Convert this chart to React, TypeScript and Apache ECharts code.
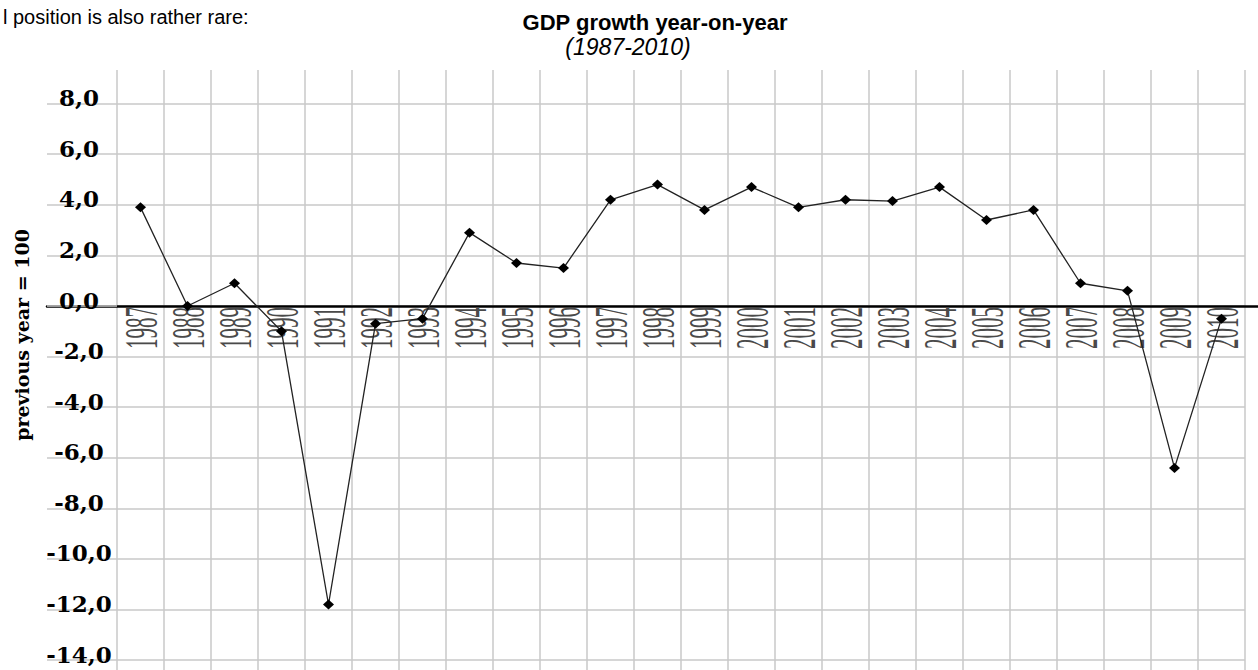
import React, { useEffect, useRef } from "react";
import * as echarts from "echarts";

const years = ["1987","1988","1989","1990","1991","1992","1993","1994","1995","1996","1997","1998","1999","2000","2001","2002","2003","2004","2005","2006","2007","2008","2009","2010"];
const growth = [3.9, 0.0, 0.9, -1.0, -11.8, -0.7, -0.5, 2.9, 1.7, 1.5, 4.2, 4.8, 3.8, 4.7, 3.9, 4.2, 4.15, 4.7, 3.4, 3.8, 0.9, 0.6, -6.4, -0.5];
const yMin = -14.39;
const yMax = 9.33;
const titleText = "GDP growth year-on-year";
const subtitleText = "(1987-2010)";
const yName = "previous year = 100";
const topText = "l position is also rather rare:";

export default function App() {
  const ref = useRef<HTMLDivElement>(null);
  useEffect(() => {
    if (!ref.current) return;
    const chart = echarts.init(ref.current, null, { renderer: "svg" });
    const gridColor = "#c8c8c8";
    chart.setOption({
      animation: false,
      backgroundColor: "#ffffff",
      title: [
        {
          text: topText,
          left: -2,
          top: 2,
          textStyle: { fontFamily: "Liberation Sans", fontSize: 20, fontWeight: "normal", color: "#000" },
        },
        {
          text: titleText,
          left: 650,
          top: 6,
          textAlign: "center",
          textStyle: { fontFamily: "Liberation Sans", fontSize: 22, fontWeight: "bold", color: "#000" },
        },
        {
          text: subtitleText,
          left: 623,
          top: 30,
          textAlign: "center",
          textStyle: { fontFamily: "Liberation Sans", fontSize: 23, fontWeight: "normal", fontStyle: "italic", color: "#000" },
        },
      ],
      grid: [
        { left: 117, right: 13, top: 70, bottom: 0, containLabel: false },
        { left: 47, right: 0, top: 70, bottom: 0, containLabel: false },
      ],
      xAxis: [
        {
          type: "category",
          gridIndex: 0,
          data: years,
          boundaryGap: true,
          axisLine: { show: false },
          axisTick: { show: false },
          axisLabel: { show: false },
          splitLine: { show: true, lineStyle: { color: gridColor, width: 1.5 } },
        },
        {
          type: "value",
          gridIndex: 1,
          min: 0,
          max: 1,
          axisLine: { show: true, onZero: true, lineStyle: { color: "#000", width: 2.5 } },
          axisTick: { show: false },
          axisLabel: { show: false },
          splitLine: { show: false },
        },
      ],
      yAxis: [
        {
          type: "value",
          gridIndex: 0,
          min: yMin,
          max: yMax,
          splitNumber: 12,
          axisLine: { show: false },
          axisTick: { show: true, length: 70, lineStyle: { color: gridColor, width: 1.5 } },
          axisLabel: {
            show: true,
            margin: 38,
            align: "center",
            verticalAlign: "bottom",
            lineHeight: 12,
            fontFamily: "DejaVu Serif",
            fontWeight: "bold",
            fontSize: 23,
            color: "#000",
            showMinLabel: false,
            showMaxLabel: false,
            formatter: (v: number) => {
              const r = Math.round(v);
              if (Math.abs(v - r) > 1e-6 || r % 2 !== 0) return "";
              return r.toFixed(1).replace(".", ",");
            },
          },
          splitLine: {
            show: true,
            showMinLine: false,
            showMaxLine: false,
            lineStyle: { color: gridColor, width: 1.5 },
          },
          name: yName,
          nameLocation: "middle",
          nameGap: 86,
          nameRotate: 90,
          nameTextStyle: {
            fontFamily: "DejaVu Serif",
            fontWeight: "bold",
            fontSize: 19,
            color: "#000",
            padding: [0, 0, 0, 70],
          },
        },
        {
          type: "value",
          gridIndex: 1,
          min: yMin,
          max: yMax,
          show: false,
        },
      ],
      series: [
        {
          type: "line",
          xAxisIndex: 0,
          yAxisIndex: 0,
          data: growth,
          symbol: "diamond",
          symbolSize: [11, 10],
          lineStyle: { color: "#222", width: 1.3 },
          itemStyle: { color: "#000" },
          z: 5,
        },
        {
          type: "custom",
          xAxisIndex: 0,
          yAxisIndex: 0,
          silent: true,
          z: 3,
          data: years.map((_, i) => [i, 0]),
          encode: { x: 0, y: 1 },
          renderItem: (params: any, api: any) => {
            const idx = api.value(0);
            const p = api.coord([idx, 0]);
            return {
              type: "text",
              x: p[0],
              y: p[1] + 1,
              rotation: Math.PI / 2,
              scaleX: 1,
              scaleY: 2.25,
              style: {
                text: years[idx],
                fontFamily: "Liberation Serif",
                fontSize: 21,
                fill: "#4a4a4a",
                align: "right",
                verticalAlign: "middle",
              },
            };
          },
        },
      ],
    });
    return () => chart.dispose();
  }, []);
  return (
    <div
      ref={ref}
      style={{ position: "fixed", left: 0, top: 0, width: 1258, height: 670 }}
    />
  );
}
